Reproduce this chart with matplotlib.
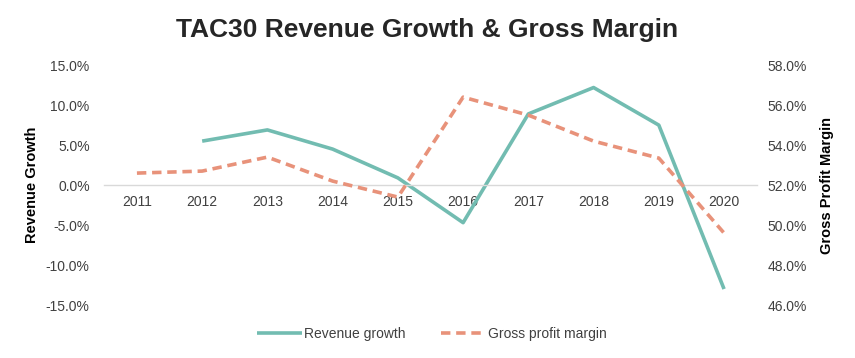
import matplotlib
matplotlib.use("Agg")
import matplotlib.pyplot as plt
from matplotlib.ticker import FuncFormatter, MultipleLocator

plt.rcParams['font.family'] = ['Liberation Sans', 'DejaVu Sans']

years = ['2011', '2012', '2013', '2014', '2015', '2016', '2017', '2018', '2019', '2020']
revenue_growth = [None, 5.5, 6.9, 4.5, 0.9, -4.7, 8.9, 12.2, 7.5, -13.0]
gross_margin = [52.6, 52.7, 53.4, 52.2, 51.4, 56.4, 55.5, 54.2, 53.35, 49.6]

teal = '#72BCB1'
salmon = '#E8927A'
txt = '#404040'

fig = plt.figure(figsize=(8.55, 3.58), dpi=100)
ax = fig.add_axes([0.122, 0.148, 0.763, 0.670])
ax2 = ax.twinx()

x = list(range(len(years)))
rx = [i for i, v in zip(x, revenue_growth) if v is not None]
rv = [v for v in revenue_growth if v is not None]
l1, = ax.plot(rx, rv, color=teal, lw=2.6, solid_capstyle='butt', label='Revenue growth')
l2, = ax2.plot(x, gross_margin, color=salmon, lw=2.6, ls=(0, (2.6, 1.6)), label='Gross profit margin')

ax.set_xlim(-0.5, len(years) - 0.5)
ax.set_ylim(-15, 15)
ax.yaxis.set_major_locator(MultipleLocator(5))
ax.yaxis.set_major_formatter(FuncFormatter(lambda v, p: f'{v:.1f}%'))
ax2.set_ylim(46, 58)
ax2.yaxis.set_major_locator(MultipleLocator(2))
ax2.yaxis.set_major_formatter(FuncFormatter(lambda v, p: f'{v:.1f}%'))

ax.set_xticks(x)
ax.set_xticklabels(years)
for a in (ax, ax2):
    for s in ('top', 'left', 'right', 'bottom'):
        a.spines[s].set_visible(False)
    a.tick_params(length=0, labelsize=10, colors=txt)
ax.spines['bottom'].set_visible(True)
ax.spines['bottom'].set_position(('data', 0))
ax.spines['bottom'].set_color('#d9d9d9')
ax.spines['bottom'].set_linewidth(1)
ax.tick_params(axis='x', pad=7)
ax.tick_params(axis='y', pad=10.5)
ax2.tick_params(axis='y', pad=8)

ax.set_ylabel('Revenue Growth', fontsize=10.5, fontweight='bold', color='black', labelpad=5)
ax2.set_ylabel('Gross Profit Margin', fontsize=10.5, fontweight='bold', color='black', labelpad=9)

fig.suptitle('TAC30 Revenue Growth & Gross Margin', fontsize=19, fontweight='bold', color='#262626', y=0.95)

fig.legend(handles=[l1, l2], loc='center', bbox_to_anchor=(0.505, 0.068), ncol=2, frameon=False,
           fontsize=10, handlelength=3.2, handletextpad=0.2, columnspacing=2.5, labelcolor=txt)

fig.savefig('out.png', dpi=100)
